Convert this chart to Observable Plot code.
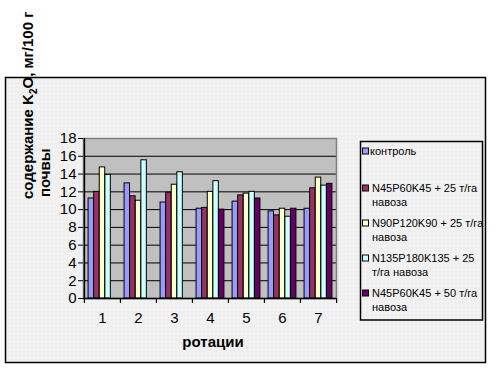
<!DOCTYPE html>
<html>
<head>
<meta charset="utf-8">
<script src="https://cdn.jsdelivr.net/npm/d3@7"></script>
<script src="https://cdn.jsdelivr.net/npm/@observablehq/plot@0.6"></script>
<style>
  html, body { margin: 0; padding: 0; background: #ffffff; }
  #chart { width: 502px; height: 370px; }
</style>
</head>
<body>
<div id="chart"></div>
<script>
// ---- data ----
const rotations = ["1", "2", "3", "4", "5", "6", "7"];
const seriesNames = [
  "контроль",
  "N45P60K45 + 25 т/га навоза",
  "N90P120K90 + 25 т/га навоза",
  "N135P180K135 + 25 т/га навоза",
  "N45P60K45 + 50 т/га навоза"
];
const legendLines = [
  ["контроль"],
  ["N45P60K45 + 25 т/га", "навоза"],
  ["N90P120K90 + 25 т/га", "навоза"],
  ["N135P180K135 + 25", "т/га навоза"],
  ["N45P60K45 + 50 т/га", "навоза"]
];
const seriesColors = ["#9999ff", "#993366", "#ffffcc", "#ccffff", "#660066"];
const control    = [11.25, 12.95, 10.8, 10.1, 10.9, 9.8, 10.1];
const npk45_25   = [12.0, 11.5, 11.9, 10.2, 11.6, 9.35, 12.4];
const npk90_25   = [14.75, 11.0, 12.8, 12.0, 11.8, 10.1, 13.6];
const npk135_25  = [13.9, 15.55, 14.2, 13.2, 12.0, 9.2, 12.7];
const npk45_50   = [null, null, null, 10.0, 11.25, 10.1, 12.9];
const seriesValues = [control, npk45_25, npk90_25, npk135_25, npk45_50];
const yTicks = [0, 2, 4, 6, 8, 10, 12, 14, 16, 18];
const xTitle = "ротации";

// ---- table ----
const table = [];
seriesValues.forEach((vals, s) => vals.forEach((v, i) => {
  if (v != null) table.push({series: seriesNames[s], s, rotation: rotations[i], value: v});
}));

// ---- layout ----
const W = 502, H = 370;
const mLeft = 83, mRight = 166, mTop = 138, mBottom = 72;
const bw = (W - mLeft - mRight) / rotations.length;
const barW = 5.6;
const pad0 = (bw - barW * seriesNames.length) / 2;
const FONT = "'Liberation Sans', Arial, sans-serif";

const barMarks = seriesNames.map((name, s) =>
  Plot.barY(table.filter(d => d.s === s), {
    x: "rotation", y: "value",
    fill: seriesColors[s], stroke: "#000", strokeWidth: 1,
    insetLeft: pad0 + barW * s,
    insetRight: bw - (pad0 + barW * (s + 1))
  })
);

const chart = Plot.plot({
  width: W, height: H,
  marginLeft: mLeft, marginRight: mRight, marginTop: mTop, marginBottom: mBottom,
  style: {background: "transparent", fontFamily: FONT, fontSize: "14px", color: "#000"},
  x: {type: "band", domain: rotations, padding: 0, label: null},
  y: {domain: [0, 18], label: null},
  marks: [
    Plot.frame({fill: "#c0c0c0", stroke: null}),
    Plot.ruleY(yTicks.filter(t => t > 0 && t < 18), {stroke: "#000", strokeWidth: 1}),
    Plot.frame({stroke: "#808080", strokeWidth: 1.5}),
    ...barMarks,
    Plot.ruleY([0], {stroke: "#000", strokeWidth: 1.5}),
    Plot.ruleX([rotations[0]], {dx: -bw / 2, stroke: "#000", strokeWidth: 1.5}),
    // boundary ticks under the x axis
    Plot.ruleX(rotations, {dx: -bw / 2, y1: 0, y2: -0.56, stroke: "#000", strokeWidth: 1.2}),
    Plot.ruleX([rotations[rotations.length - 1]], {dx: bw / 2, y1: 0, y2: -0.56, stroke: "#000", strokeWidth: 1.2}),
    Plot.axisY({ticks: yTicks, tickSize: 5, tickPadding: 2, tickFormat: d => String(d), label: null, fontSize: 15}),
    Plot.axisX({tickSize: 0, tickPadding: 14, label: null, fontSize: 15})
  ]
});

const svg = d3.select(chart);
// chart-area background (behind everything)
const defs = svg.insert("defs", ":first-child");
const pat = defs.append("pattern").attr("id", "dots").attr("width", 4).attr("height", 4).attr("patternUnits", "userSpaceOnUse");
pat.append("rect").attr("width", 4).attr("height", 4).attr("fill", "#f0f0f0");
pat.append("rect").attr("x", 1).attr("y", 1).attr("width", 1).attr("height", 1).attr("fill", "#fbfbfb");
svg.insert("rect", "defs + *")
  .attr("x", 5.5).attr("y", 77.5).attr("width", 480).attr("height", 285)
  .attr("fill", "url(#dots)").attr("stroke", "#000").attr("stroke-width", 1.5);

// x title
svg.append("text").attr("x", 213).attr("y", 347).attr("text-anchor", "middle")
  .attr("font-family", FONT).attr("font-weight", "bold").attr("font-size", 15)
  .text(xTitle);

// y title (two lines, rotated)
const yt = svg.append("g").attr("font-family", FONT).attr("text-anchor", "start")
  .attr("font-weight", "bold").attr("font-size", 15).attr("fill", "#000");
const t1 = yt.append("text").attr("transform", "translate(33,199) rotate(-90)");
t1.append("tspan").text("содержание K");
t1.append("tspan").attr("font-size", 10).attr("dy", 4).text("2");
t1.append("tspan").attr("dy", -4).text("O, мг/100 г");
yt.append("text").attr("transform", "translate(50,197) rotate(-90)").text("почвы");

// legend
const lg = svg.append("g").attr("font-family", FONT).attr("font-size", 11).attr("text-anchor", "start");
lg.append("rect").attr("x", 360.5).attr("y", 141.5).attr("width", 122).attr("height", 178.5)
  .attr("fill", "url(#dots)").attr("stroke", "#000").attr("stroke-width", 1.5);
const baselines = [[155], [192, 206], [227, 241], [262, 276], [297, 311]];
legendLines.forEach((lines, s) => {
  lg.append("rect").attr("x", 362.5).attr("y", baselines[s][0] - 7).attr("width", 6).attr("height", 6)
    .attr("fill", seriesColors[s]).attr("stroke", "#000").attr("stroke-width", 1);
  lines.forEach((ln, j) => {
    lg.append("text").attr("x", j === 0 && s === 0 ? 370 : 372).attr("y", baselines[s][j]).text(ln);
  });
});

document.getElementById("chart").appendChild(chart);
</script>
</body>
</html>
